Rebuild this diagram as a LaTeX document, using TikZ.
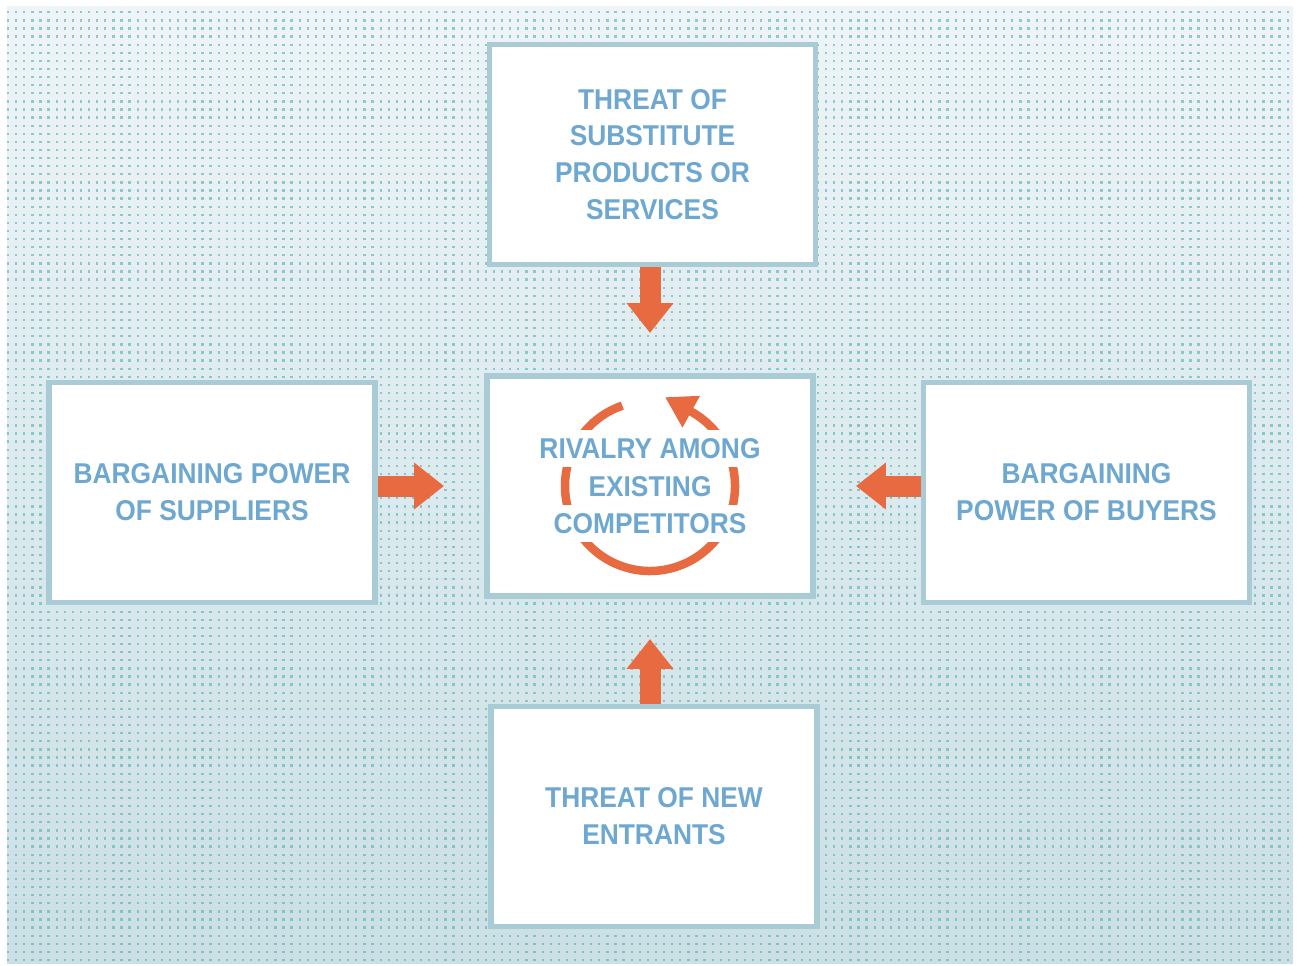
\documentclass[tikz,border=0pt]{standalone}
\usepackage{fontspec}
\usepackage{xcolor}
\usepackage{tikz}
\usetikzlibrary{arrows.meta,positioning,calc}

\newfontfamily\forcesfont{Liberation Sans}[FakeStretch=0.92]

\definecolor{bgtop}{HTML}{EEF4F7}
\definecolor{bgbottom}{HTML}{CBDFE5}
\definecolor{dotteal}{HTML}{4FB5B0}
\definecolor{boxline}{HTML}{A9CBD5}
\definecolor{labelblue}{HTML}{6EA8D0}
\definecolor{forceorange}{HTML}{E86A40}

\begin{document}
\begin{tikzpicture}[x=0.02cm, y=0.02cm,
    labelfont/.style={text=labelblue, font=\forcesfont\bfseries\fontsize{16.3pt}{21pt}\selectfont},
    force/.style={labelfont, draw=boxline, line width=0.11cm, fill=white, minimum width=6.53cm, minimum height=4.41cm, align=center},
    rivalline/.style={labelfont, fill=white, minimum height=0.74cm, inner xsep=3pt, inner ysep=0pt, text height=11.7pt, text depth=0pt},
    push/.style={draw=forceorange, line width=0.42cm, -{Triangle[length=0.6cm, width=0.9cm]}},
    turn/.style={draw=forceorange, line width=0.17cm, -{Triangle[length=0.6cm, width=0.68cm]}},
    dotrow/.style={draw=dotteal, draw opacity=0.62, line width=0.045cm, dash pattern=on 0.045cm off 0.117cm}]
    \useasboundingbox (0,0) rectangle (1301,965);

    % dotted backdrop
    \shade[top color=bgtop, bottom color=bgbottom] (7,2) rectangle (1293,958);
    \foreach \y in {5,13.1,...,957}
        \draw[dotrow] (7,\y) -- (1293,\y);

    % the five forces
    \node[force] (rival) at (650,479) {};
    \node[force] (sub) at (652.5,810.5) {THREAT OF\\SUBSTITUTE\\PRODUCTS OR\\SERVICES};
    \node[force] (sup) at (212,472.5) {BARGAINING POWER\\OF SUPPLIERS};
    \node[force] (buy) at (1086.5,472.5) {BARGAINING\\POWER OF BUYERS};
    \node[force] (ent) at (654,148.5) {THREAT OF NEW\\ENTRANTS};

    \draw[push] (sub.south -| rival.north) -- ($(rival.north)+(0,40)$);
    \draw[push] (ent.north -| rival.south) -- ($(rival.south)+(0,-40)$);
    \draw[push] (sup.east |- rival.west) -- ($(rival.west)+(-40,0)$);
    \draw[push] (buy.west |- rival.east) -- ($(rival.east)+(40,0)$);

    % rivalry cycle, lines of text sit on white over it
    \draw[turn] ($(rival.center)+(109:85)$) arc[start angle=109, end angle=421, radius=85] -- ++(-26.2,14.5);
    \node[rivalline] (rv2) at (rival.center) {EXISTING};
    \node[rivalline, above=0pt of rv2] (rv1) {RIVALRY AMONG};
    \node[rivalline, below=0pt of rv2] (rv3) {COMPETITORS};
\end{tikzpicture}
\end{document}
